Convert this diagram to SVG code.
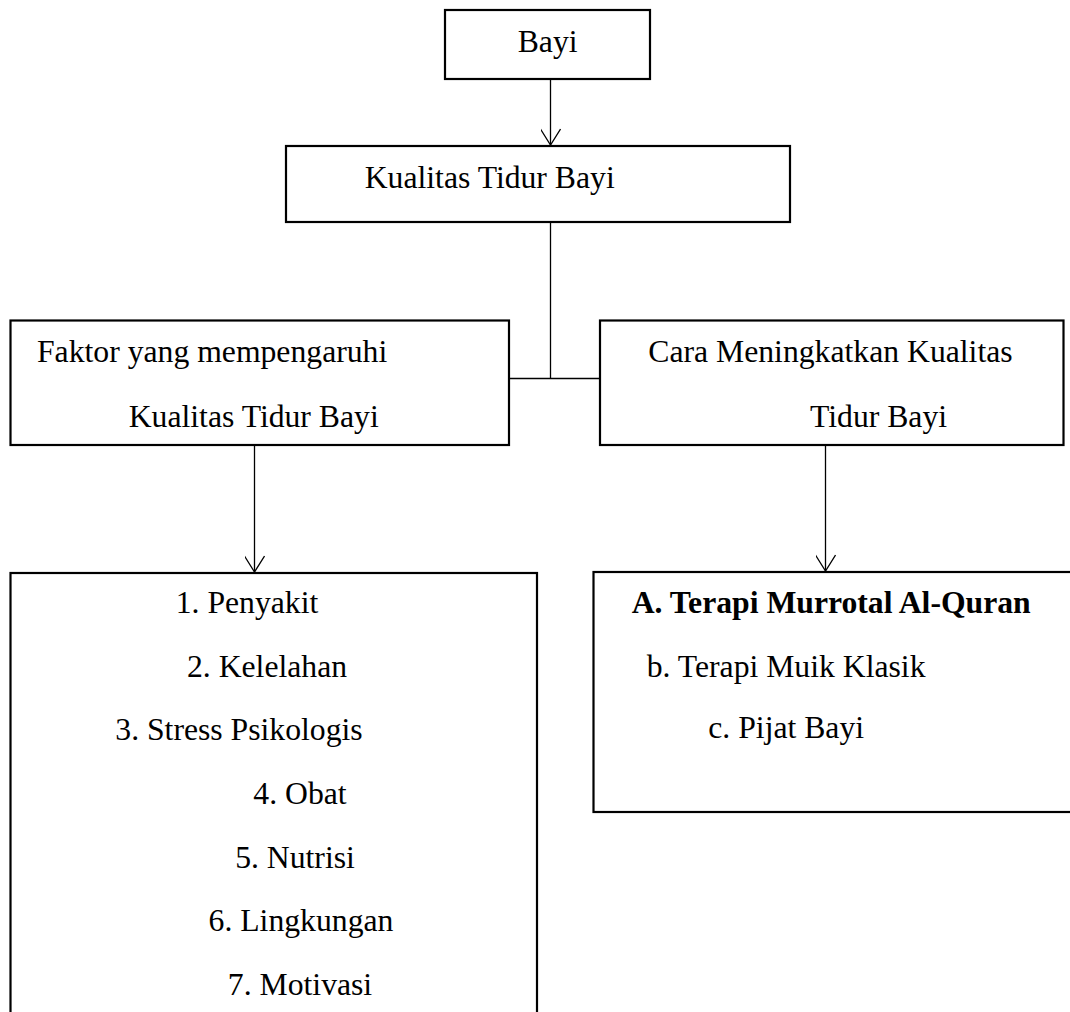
<svg xmlns="http://www.w3.org/2000/svg" width="1070" height="1012" viewBox="0 0 1070 1012">
<style>
.box{fill:#fff;stroke:#000;stroke-width:2.2}
.ln{fill:none;stroke:#000;stroke-width:1.3}
.t{font-family:"Liberation Serif","Times New Roman",serif;font-size:31.7px;fill:#000}
.c{text-anchor:middle}
.b{font-weight:bold}
</style>
<defs>
<marker id="ah" markerUnits="userSpaceOnUse" markerWidth="24" markerHeight="20" refX="20" refY="10" orient="auto">
<path d="M4,0 L20,10 L4,20" fill="none" stroke="#000" stroke-width="1.3"/>
</marker>
</defs>
<rect width="1070" height="1012" fill="#fff"/>
<g id="connectors">
<line class="ln" x1="550.5" y1="80" x2="550.5" y2="145" marker-end="url(#ah)"/>
<polyline class="ln" points="550.5,223 550.5,378.5"/>
<polyline class="ln" points="509,378.5 600,378.5"/>
<line class="ln" x1="254.5" y1="446" x2="254.5" y2="572" marker-end="url(#ah)"/>
<line class="ln" x1="825.5" y1="446" x2="825.5" y2="571" marker-end="url(#ah)"/>
</g>
<g id="bayi">
<rect class="box" x="445" y="10" width="205" height="69"/>
<text class="t" x="517.7" y="52">Bayi</text>
</g>
<g id="kualitas">
<rect class="box" x="286" y="146" width="504" height="76"/>
<text class="t" x="364.7" y="188">Kualitas Tidur Bayi</text>
</g>
<g id="faktor">
<rect class="box" x="10.5" y="320.5" width="498.5" height="124.5"/>
<text class="t" x="37" y="362">Faktor yang mempengaruhi</text>
<text class="t" x="128.7" y="427">Kualitas Tidur Bayi</text>
</g>
<g id="cara">
<rect class="box" x="600" y="320.5" width="463.5" height="124.5"/>
<text class="t" x="648.3" y="362">Cara Meningkatkan Kualitas</text>
<text class="t" x="810" y="427">Tidur Bayi</text>
</g>
<g id="faktor-list">
<rect class="box" x="10.5" y="573" width="526.5" height="450"/>
<text class="t c" x="247" y="613">1. Penyakit</text>
<text class="t c" x="267" y="676.7">2. Kelelahan</text>
<text class="t c" x="239" y="740.3">3. Stress Psikologis</text>
<text class="t c" x="300" y="804">4. Obat</text>
<text class="t c" x="295" y="867.7">5. Nutrisi</text>
<text class="t c" x="301" y="931.3">6. Lingkungan</text>
<text class="t c" x="300" y="995">7. Motivasi</text>
</g>
<g id="cara-list">
<rect class="box" x="593.5" y="572" width="490" height="240"/>
<text class="t b" x="631.7" y="613">A. Terapi Murrotal Al-Quran</text>
<text class="t" x="646.7" y="677">b. Terapi Muik Klasik</text>
<text class="t" x="708.3" y="738">c. Pijat Bayi</text>
</g>
</svg>
